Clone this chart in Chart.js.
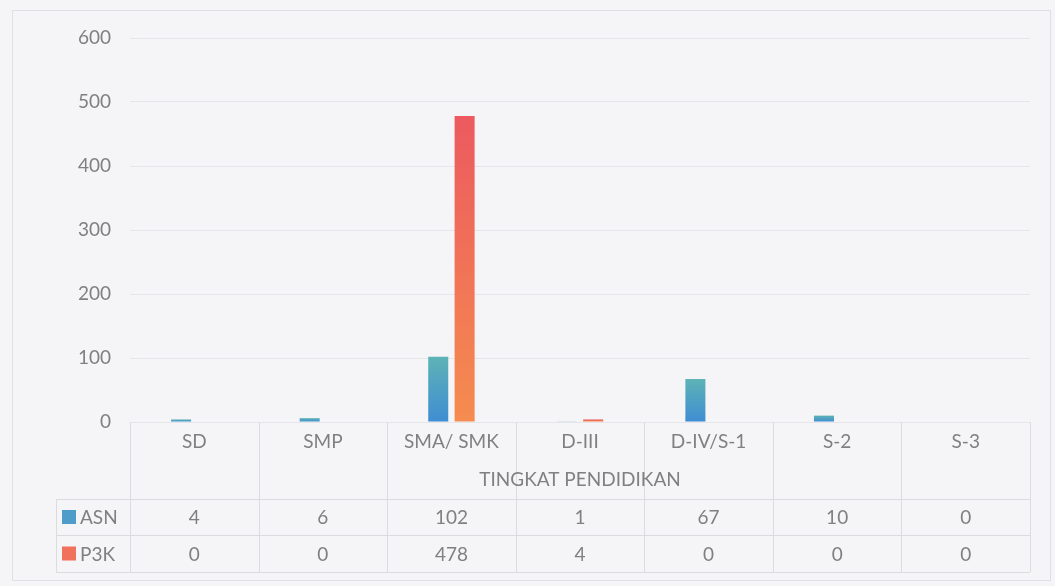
<!DOCTYPE html>
<html>
<head>
<meta charset="utf-8">
<script src="https://cdn.jsdelivr.net/npm/chart.js@4/dist/chart.umd.min.js"></script>
<style>
    html, body { margin: 0; padding: 0; background: #f5f5f7; }
    #wrap { width: 1055px; height: 586px; }
</style>
</head>
<body>
<div id="wrap"><canvas id="chart" width="1055" height="586"></canvas></div>
<script>
const categories = ['SD', 'SMP', 'SMA/ SMK', 'D-III', 'D-IV/S-1', 'S-2', 'S-3'];
const asnValues = [4, 6, 102, 1, 67, 10, 0];
const p3kValues = [0, 0, 478, 4, 0, 0, 0];
const seriesNames = ['ASN', 'P3K'];
const axisTitle = 'TINGKAT PENDIDIKAN';

const FONT = 'Lato, "Open Sans", sans-serif';
const TEXT = '#808083';
const LINE = '#dcdce0';

// gradient over the height of a single bar, like the Excel fill
function barFill(top, bottom, solid) {
    return (c) => {
        const chart = c.chart;
        if (!chart.chartArea || c.raw == null) return solid;
        const y = chart.scales.y;
        const y0 = y.getPixelForValue(c.raw);
        const y1 = y.getPixelForValue(0);
        if (y1 - y0 < 2) return solid;
        const g = chart.ctx.createLinearGradient(0, y0, 0, y1);
        g.addColorStop(0, top);
        g.addColorStop(1, bottom);
        return g;
    };
}

// draws the frame plus the data table under the plot
const dataTable = {
    id: 'dataTable',
    beforeDraw(chart) {
        const ctx = chart.ctx;
        ctx.save();
        ctx.fillStyle = '#f5f5f7';
        ctx.fillRect(0, 0, chart.width, chart.height);
        ctx.strokeStyle = '#e0e0e4';
        ctx.lineWidth = 1;
        ctx.strokeRect(12.5, 10.5, 1038, 570);
        ctx.restore();
    },
    afterDraw(chart) {
        const ctx = chart.ctx;
        const x = chart.scales.x;
        const area = chart.chartArea;
        const colW = (area.right - area.left) / categories.length;
        const top = area.bottom;
        const row1 = 499, row2 = 535, row3 = 572, keyLeft = 56;

        ctx.save();
        ctx.strokeStyle = LINE;
        ctx.lineWidth = 1;
        ctx.beginPath();
        for (let i = 0; i <= categories.length; i++) {
            const px = Math.round(area.left + i * colW) + 0.5;
            ctx.moveTo(px, top);
            ctx.lineTo(px, row3);
        }
        [row1, row2, row3].forEach((y) => {
            ctx.moveTo(keyLeft, y + 0.5);
            ctx.lineTo(area.right, y + 0.5);
        });
        ctx.moveTo(keyLeft + 0.5, row1);
        ctx.lineTo(keyLeft + 0.5, row3);
        ctx.stroke();

        ctx.fillStyle = TEXT;
        ctx.font = '19px ' + FONT;
        ctx.textAlign = 'center';
        ctx.textBaseline = 'middle';
        categories.forEach((cat, i) => {
            ctx.fillText(cat, x.getPixelForValue(i), top + 20);
        });
        ctx.fillText(axisTitle, (area.left + area.right) / 2, 480);

        const rows = [asnValues, p3kValues];
        const keyColors = ['#4d9cc9', '#f0715c'];
        rows.forEach((vals, r) => {
            const cy = (r === 0 ? (row1 + row2) : (row2 + row3)) / 2;
            ctx.fillStyle = keyColors[r];
            ctx.fillRect(keyLeft + 6, cy - 7, 14, 14);
            ctx.fillStyle = TEXT;
            ctx.textAlign = 'left';
            ctx.fillText(seriesNames[r], keyLeft + 24, cy + 1);
            ctx.textAlign = 'center';
            vals.forEach((v, i) => {
                ctx.fillText(String(v), x.getPixelForValue(i), cy + 1);
            });
        });
        ctx.restore();
    }
};

const ctx = document.getElementById('chart').getContext('2d');
new Chart(ctx, {
    type: 'bar',
    data: {
        labels: categories,
        datasets: [{
            label: seriesNames[0],
            data: asnValues,
            backgroundColor: barFill('#5db3b6', '#3f8dd3', '#4fa3bf'),
            categoryPercentage: 0.41,
            barPercentage: 0.76,
        }, {
            label: seriesNames[1],
            data: p3kValues,
            backgroundColor: barFill('#ec5a5f', '#f58c4f', '#f0785a'),
            categoryPercentage: 0.41,
            barPercentage: 0.76,
        }],
    },
    options: {
        responsive: false,
        animation: false,
        layout: { padding: { top: 38, right: 25, bottom: 164, left: 0 } },
        plugins: {
            legend: { display: false },
            tooltip: { enabled: false },
        },
        scales: {
            x: {
                display: false,
                grid: { display: false },
            },
            y: {
                min: 0,
                max: 600,
                ticks: {
                    stepSize: 100,
                    color: TEXT,
                    font: { family: FONT, size: 19 },
                    padding: 19,
                },
                grid: { color: '#e6e6ea', drawTicks: false },
                border: { display: false },
                afterFit(scale) { scale.width = 130; },
            },
        },
    },
    plugins: [dataTable],
});
</script>
</body>
</html>
